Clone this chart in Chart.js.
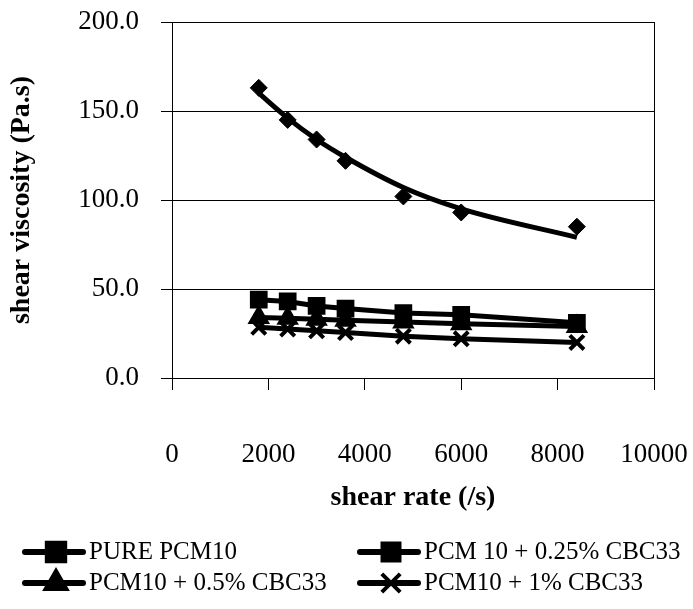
<!DOCTYPE html>
<html>
<head>
<meta charset="utf-8">
<script src="https://cdn.jsdelivr.net/npm/chart.js@4"></script>
<style>
  html, body { margin: 0; padding: 0; background: #fff; }
</style>
</head>
<body>
<canvas id="chart" width="693" height="609"></canvas>
<script>
// shear rate (/s) of every measurement
var shearRates = [1800, 2400, 3000, 3600, 4800, 6000, 8400];

// shear viscosity (Pa.s)
var purePcm10 = [163, 145, 134, 122, 102, 93, 85];
var pureTrend = [160, 146, 134, 124, 107, 95, 79];
var pcm025 = [44, 43, 40.5, 39, 36.5, 35.5, 31];
var pcm05 = [34, 33.5, 33, 32.5, 31.5, 30.5, 29];
var pcm1 = [28.5, 27.5, 26.5, 25.5, 23.5, 22, 20];

var xTicks = [0, 2000, 4000, 6000, 8000, 10000];
var yTicks = [0, 50, 100, 150, 200];
var seriesNames = ['PURE PCM10', 'PCM 10 + 0.25% CBC33', 'PCM10 + 0.5% CBC33', 'PCM10 + 1% CBC33'];

var FONT = '"Liberation Serif", "Times New Roman", serif';

function toPoints(values) {
    return values.map(function (v, i) {
        return { x: shearRates[i], y: v };
    });
}

// legend entries in the 2 x 2 grid of the original
var legendItems = [
    { dataset: 0, style: 'rect', radius: 13 },
    { dataset: 2, style: 'rect', radius: 12 },
    { dataset: 3, style: 'triangle', radius: 12 },
    { dataset: 4, style: 'crossRot', radius: 13 }
];

var gridLegend = {
    id: 'gridLegend',
    afterDraw: function (chart) {
        var ctx = chart.ctx;
        var cols = [25, 360];
        var rows = [552, 583];
        ctx.save();
        legendItems.forEach(function (item, i) {
            var ds = chart.data.datasets[item.dataset];
            var x0 = cols[i % 2];
            var y = rows[Math.floor(i / 2)];
            ctx.strokeStyle = '#000';
            ctx.fillStyle = '#000';
            ctx.lineWidth = 6;
            ctx.lineCap = 'round';
            ctx.beginPath();
            ctx.moveTo(x0, y);
            ctx.lineTo(x0 + 58, y);
            ctx.stroke();
            ctx.lineWidth = 4;
            ctx.lineCap = 'butt';
            Chart.helpers.drawPoint(ctx, { pointStyle: item.style, radius: item.radius, borderWidth: 4, rotation: 0 }, x0 + 31, y);
            ctx.font = '25px ' + FONT;
            ctx.textBaseline = 'middle';
            ctx.textAlign = 'left';
            ctx.fillText(ds.label, x0 + 64, y);
        });
        ctx.restore();
    }
};

// keep the plot box where the original has it: no extra room for tick labels
function noLabelPadding(axis) {
    axis.paddingLeft = 0;
    axis.paddingRight = 0;
    axis.paddingTop = 0;
    axis.paddingBottom = 0;
}

var black = '#000';

new Chart(document.getElementById('chart'), {
    type: 'line',
    data: {
        datasets: [
            {
                label: seriesNames[0],
                data: toPoints(purePcm10),
                showLine: false,
                pointStyle: 'rectRot',
                pointRadius: 8.5,
                pointBackgroundColor: black,
                pointBorderColor: black,
                borderColor: black
            },
            {
                label: 'trend',
                data: toPoints(pureTrend),
                pointRadius: 0,
                borderWidth: 5,
                borderColor: black,
                cubicInterpolationMode: 'monotone'
            },
            {
                label: seriesNames[1],
                data: toPoints(pcm025),
                borderWidth: 5,
                borderColor: black,
                pointStyle: 'rect',
                pointRadius: 9,
                pointBackgroundColor: black,
                pointBorderColor: black
            },
            {
                label: seriesNames[2],
                data: toPoints(pcm05),
                borderWidth: 5,
                borderColor: black,
                pointStyle: 'triangle',
                pointRadius: 8,
                pointBackgroundColor: black,
                pointBorderColor: black
            },
            {
                label: seriesNames[3],
                data: toPoints(pcm1),
                borderWidth: 5,
                borderColor: black,
                pointStyle: 'crossRot',
                pointRadius: 10,
                pointBorderWidth: 4,
                pointBackgroundColor: black,
                pointBorderColor: black
            }
        ]
    },
    options: {
        responsive: false,
        animation: false,
        devicePixelRatio: 1,
        layout: { padding: { top: 22, left: 0, right: 0, bottom: 0 } },
        plugins: {
            legend: { display: false },
            tooltip: { enabled: false }
        },
        scales: {
            x: {
                type: 'linear',
                position: 'bottom',
                min: 0,
                max: 10000,
                afterBuildTicks: function (axis) {
                    axis.ticks = xTicks.map(function (v) { return { value: v }; });
                },
                afterFit: function (axis) {
                    axis.height = 231;
                    noLabelPadding(axis);
                },
                ticks: {
                    color: black,
                    font: { family: FONT, size: 27 },
                    padding: 49,
                    maxRotation: 0,
                    autoSkip: false,
                    callback: function (v) { return String(v); }
                },
                grid: { drawOnChartArea: false, color: black, tickLength: 12 },
                border: { color: black, width: 1 },
                title: {
                    display: true,
                    text: 'shear rate (/s)',
                    color: black,
                    font: { family: FONT, size: 28, weight: 'bold' },
                    padding: { top: 0, bottom: 94 }
                }
            },
            y: {
                min: 0,
                max: 200,
                afterBuildTicks: function (axis) {
                    axis.ticks = yTicks.map(function (v) { return { value: v }; });
                },
                afterFit: function (axis) {
                    axis.width = 172;
                    noLabelPadding(axis);
                },
                ticks: {
                    color: black,
                    font: { family: FONT, size: 27 },
                    padding: 22,
                    callback: function (v) { return v.toFixed(1); }
                },
                grid: { color: black, lineWidth: 1, tickLength: 11 },
                border: { color: black, width: 1 },
                title: {
                    display: true,
                    text: 'shear viscosity (Pa.s)',
                    color: black,
                    font: { family: FONT, size: 28, weight: 'bold' },
                    padding: { top: 5, bottom: 0 }
                }
            },
            yRight: {
                position: 'right',
                min: 0,
                max: 200,
                afterFit: function (axis) {
                    axis.width = 39;
                    noLabelPadding(axis);
                },
                ticks: { display: false },
                grid: { display: false },
                border: { display: true, color: black, width: 1 }
            }
        }
    },
    plugins: [gridLegend]
});
</script>
</body>
</html>
